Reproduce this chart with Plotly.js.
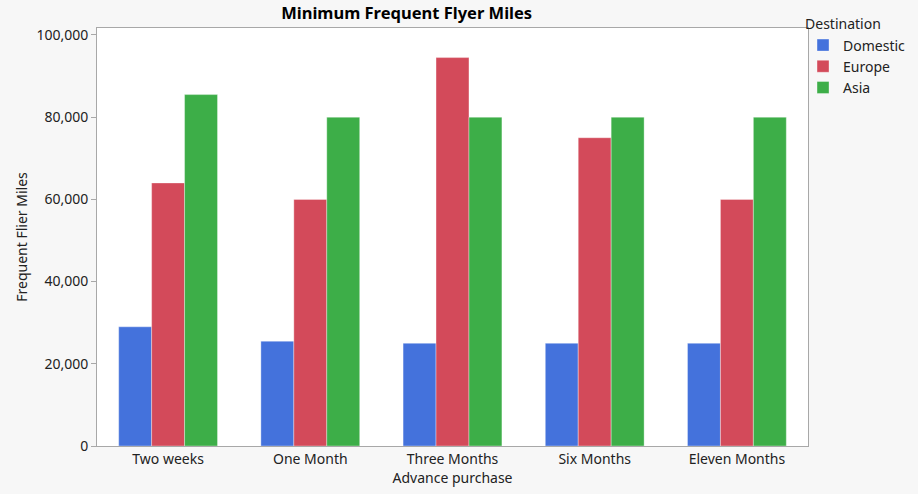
<!DOCTYPE html>
<html>
<head>
<meta charset="utf-8">
<script src="https://cdn.plot.ly/plotly-3.0.1.min.js"></script>
<style>html,body{margin:0;padding:0;background:#f7f7f7;}</style>
</head>
<body>
<div id="chart" style="width:918px;height:494px;"></div>
<script>
const categories = ["Two weeks", "One Month", "Three Months", "Six Months", "Eleven Months"];
const domestic = [29000, 25500, 25000, 25000, 25000];
const europe = [64000, 60000, 94500, 75000, 60000];
const asia = [85500, 80000, 80000, 80000, 80000];
const seriesNames = ["Domestic", "Europe", "Asia"];
const seriesColors = ["#4472dc", "#d34a5a", "#3dae48"];
const yTicks = [0, 20000, 40000, 60000, 80000, 100000];
const yTickText = ["0", "20,000", "40,000", "60,000", "80,000", "100,000"];

const font = "Segoe UI, 'Noto Sans', 'Open Sans', sans-serif";
const values = [domestic, europe, asia];
const traces = values.map((v, i) => ({
  type: "bar",
  name: seriesNames[i],
  x: categories,
  y: v,
  marker: {color: seriesColors[i], line: {color: "rgba(255,255,255,0.35)", width: 1}},
  hoverinfo: "x+y+name"
}));

const layout = {
  width: 918, height: 494,
  paper_bgcolor: "#f7f7f7",
  plot_bgcolor: "#ffffff",
  font: {family: font, size: 14, color: "#222"},
  margin: {l: 97, r: 110, t: 28, b: 48, autoexpand: false},
  barmode: "group",
  bargap: 0.305,
  bargroupgap: 0,
  title: {text: "<b>Minimum Frequent Flyer Miles</b>", x: 0.443, xanchor: "center", y: 0.985, yanchor: "top", font: {size: 16.5, color: "#000", family: font}},
  xaxis: {
    title: {text: "Advance purchase", font: {size: 14}, standoff: 6},
    showline: true, linecolor: "#a8a8a8", linewidth: 1, mirror: true,
    ticks: "", tickfont: {size: 14}, showgrid: false, zeroline: false
  },
  yaxis: {
    title: {text: "Frequent Flier Miles", font: {size: 14}, standoff: 5},
    range: [0, 101700],
    tickvals: yTicks, ticktext: yTickText,
    showline: true, linecolor: "#a8a8a8", linewidth: 1, mirror: true,
    ticks: "outside", ticklen: 5, tickcolor: "#a8a8a8",
    tickfont: {size: 14}, showgrid: false, zeroline: false
  },
  legend: {
    x: 0.993, xanchor: "left", y: 1.04, yanchor: "top",
    title: {text: "Destination", font: {size: 14}},
    font: {size: 14}, tracegroupgap: 0, itemwidth: 30,
    bgcolor: "rgba(0,0,0,0)"
  },
  showlegend: true
};

Plotly.newPlot("chart", traces, layout, {displayModeBar: false, staticPlot: true});
</script>
</body>
</html>
